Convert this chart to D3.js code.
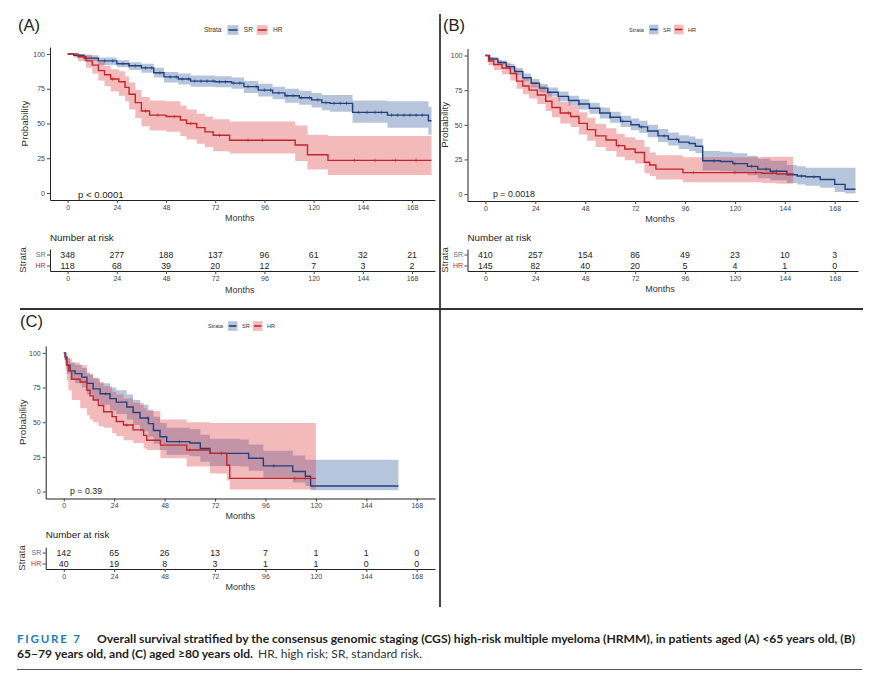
<!DOCTYPE html>
<html>
<head>
<meta charset="utf-8">
<script src="https://cdn.jsdelivr.net/npm/d3@7"></script>
<style>
body { margin: 0; background: #fff; }
svg text { font-family: "Liberation Sans", Arial, sans-serif; }
</style>
</head>
<body>
<svg id="fig" width="888" height="686"></svg>
<script>
// tick values shared by every panel
var monthTicks = [0, 24, 48, 72, 96, 120, 144, 168];
var probTicks = [0, 25, 50, 75, 100];
var strata = ["SR", "HR"];

// KM steps: [month, survival %, lower CI, upper CI]
var srA = [[0,100,100,100],[3,99,97.5,100],[8,97,95,99],[15,95,92,97.5],[24,93,90.5,95.5],[30,91.5,88.5,94],
  [36,90,86.5,93],[42,86.5,83,90],[47,83.5,79.5,87],[54,82,78,86],[60,80.5,76.5,84.5],[72,80,76,84],
  [80,79,75,83],[86,76.5,72,80.5],[93,74,69.5,78.5],[100,72,67.5,76.5],[106,70,65,75],[113,68.5,63.5,73.5],
  [119,67,61.5,72],[124,65,59.5,70.5],[128,64.5,58.5,70.5],[139,58,50.5,66.5],[156,56,47,66],[176,52,42,62],[177.5,52,42,62]];
var hrA = [[0,100,100,100],[5,98,95,100],[9,95,90,99.5],[12,92,86,97.5],[15,88,81,94],[18,85,77,91.5],
  [21,82,73,89],[25,80,70,87.5],[28,76,66,84],[30,71,60,79.5],[33,65,54,74],[36,59,48,69],[40,56,45,66.5],
  [48,55,44,66],[55,52.5,41,63],[58,50,38.5,60],[63,47,35.5,57],[67,44,33,55],[71,41.5,30,53],[79,38,28.5,51.5],
  [111,34.5,23,48.5],[117,27.5,17,42],[127,23.5,13,41],[177.5,23.5,13,41]];

var srB = [[0,100,100,100],[2,97.5,96.5,99],[6,95,93.5,96.5],[10,92,90,94],[14,88.5,86,91],[18,84,81.5,87],
  [22,80,77,83],[26,76.5,73.5,79.5],[30,73.5,70.5,77],[35,70.5,67,74],[40,67.5,64,71],[45,65,61,68.5],
  [50,62,58,66],[55,58.5,54.5,62.5],[60,55.5,51.5,59.5],[65,52.5,48.5,56.5],[70,50,46,54.5],[74,48.5,44,53],
  [78,45.5,41,50],[83,42,37.5,47],[88,39.5,35,44.5],[93,37.5,32.5,42.5],[98,36.5,31,41.5],[101,34.5,29.5,40],
  [104.5,24,17,31],[113,23.5,16.5,30.5],[119,22,15,29.5],[126,20,13.5,27.5],[131,18,11.5,25.5],[137,16.5,10,24],
  [145,14,8,21],[150,13,7,20],[154,12.5,6,19],[161,10.5,4.5,19],[168,7,1.5,19],[173,3.5,0.5,19],[178,3.5,0.5,19]];
var hrB = [[0,100,100,100],[1.5,96,93,99],[4,93.5,89.5,97],[8,91,86.5,95],[12,87,82,92],[15,81.5,76,87],
  [18,78,72,84],[21,75,69,81],[25,71.5,65,78],[29,67,60,74],[32,62.5,55.5,70],[36,58.5,51,66.5],
  [41,56,48.5,64],[45,51,43,59],[49,46.5,38.5,55],[53,42,34,50.5],[58,39,31,47.5],[63,35,27,43.5],
  [67,32.5,24.5,41],[72,30,22,39],[76.5,23,15,34],[79,21,13,30],[82,18,10.5,28],[95,15.5,8.5,26.5],
  [133,15,8,27],[140,14.5,7.5,27],[148,14,7,27]];

var srC = [[0,100,100,100],[0.6,97,92,100],[1.4,91,85,96.5],[3,87,80.5,93],[5.4,85,78,91.5],[8.6,82.5,75,89],
  [11,78,70,85],[14,74,66,81.5],[17.3,70.5,62.5,78],[22,67,58.5,75],[25,64.5,56,73],[30,61,52,70],
  [33,57,48,66],[36.3,53,43.5,62.5],[40.3,49,39.5,59],[42.7,44,34.5,54],[45.8,39.5,30,49.5],[49,36,26.5,46],
  [60,35,25.5,45],[65,31,21.5,41],[69.6,27.5,18.5,38],[84,27.5,18,37.5],[88,24,15,34],[95,18.5,10,29.5],
  [109,14.5,6.5,26],[115,11,4,23],[117.5,4,1,23],[159.3,4,1,23]];
var hrC = [[0,100,100,100],[0.8,95.5,88,100],[1.4,91,80,98],[2.2,87,73,96],[3.8,81,66,93],[7.8,79,60,91],
  [11,73,55,86],[12.5,69,52,84],[14,66,50,82],[16.5,62,47,79],[19,57.5,46,76],[23,54,42,72],[25,50.5,40,70],
  [28.4,48,37,67],[33,44.5,35,64],[38,40.5,31,60],[39.5,37,30,58],[46,33.5,24,52],[58.5,30,18,50],
  [69.6,27.5,13,49.5],[77.6,19,8,49.5],[79,9.5,1.5,49.5],[120,9.5,1.5,49.5]];

// censoring times (the + marks)
var censA_SR = [18,22,27,30,33,38,41,45,50,53,56,59,62,65,68,71,74,77,81,84,88,92,96,99,103,107,110,114,118,122,126,130,133,136,142,146,150,153,158,161,164,167,170,173];
var censA_HR = [22,38,44,52,60,74,88,95,140,150,160,170];
var censB_SR = [30,45,60,66,75,86,92,110,120,128,135,140,152,158];
var censB_HR = [40,64,100,120,130,138];
var censC_SR = [20,40,55,75,100];
var censC_HR = [30,60,110,115];

// number at risk at monthTicks
var riskA_SR = [348,277,188,137,96,61,32,21];
var riskA_HR = [118,68,39,20,12,7,3,2];
var riskB_SR = [410,257,154,86,49,23,10,3];
var riskB_HR = [145,82,40,20,5,4,1,0];
var riskC_SR = [142,65,26,13,7,1,1,0];
var riskC_HR = [40,19,8,3,1,1,0,0];

var pValues = ["p < 0.0001", "p = 0.0018", "p = 0.39"];

var lineColor = { SR: "#22427f", HR: "#c1272d" };
var fillColor = { SR: "#2f5a9c", HR: "#de3a3f" };

var svg = d3.select("#fig");

function styleAxis(sel, fs) {
    sel.attr("font-family", null).attr("font-size", null);
    sel.select(".domain").attr("stroke", "#222").attr("stroke-width", 1);
    sel.selectAll(".tick line").attr("stroke", "#444");
    sel.selectAll(".tick text").attr("fill", "#444").attr("font-size", fs);
}

function stepAt(data, t) {
    var v = data[0][1];
    data.forEach(function(d) { if (d[0] <= t) v = d[1]; });
    return v;
}

function drawPanel(p) {
    var g = svg.append("g");
    var x = d3.scaleLinear().domain([-8.6, p.xMax]).range([p.x0, p.x1]);
    var y = d3.scaleLinear().domain([-5, 105]).range([p.yBot, p.yTop]);

    g.append("text").attr("x", p.labX).attr("y", p.labY)
        .attr("font-size", 16.5).attr("fill", "#222").text(p.label);

    // legend
    var lg = g.append("g").attr("transform", "translate(" + p.legX + "," + p.legY + ")");
    var s = p.legS;
    lg.append("text").attr("x", 0).attr("y", 2).attr("font-size", 5.6 * s).attr("fill", "#333").text("Strata");
    [[20, 34, "SR"], [45, 59, "HR"]].forEach(function(k) {
        lg.append("rect").attr("x", k[0] * s).attr("y", -4.8).attr("width", 9.5 * s).attr("height", 9.6)
            .attr("fill", fillColor[k[2]]).attr("fill-opacity", 0.35);
        lg.append("line").attr("x1", k[0] * s + 1).attr("x2", k[0] * s + 9.5 * s - 1).attr("y1", 0).attr("y2", 0)
            .attr("stroke", lineColor[k[2]]).attr("stroke-width", 1.6);
        lg.append("text").attr("x", k[1] * s).attr("y", 2).attr("font-size", 5.6 * s).attr("fill", "#333").text(k[2]);
    });

    var band = d3.area().curve(d3.curveStepAfter)
        .x(function(d) { return x(d[0]); })
        .y0(function(d) { return y(d[2]); })
        .y1(function(d) { return y(d[3]); });
    var line = d3.line().curve(d3.curveStepAfter)
        .x(function(d) { return x(d[0]); })
        .y(function(d) { return y(d[1]); });

    var curves = [["SR", p.sr, p.cSR], ["HR", p.hr, p.cHR]];
    curves.forEach(function(c) {
        g.append("path").datum(c[1]).attr("d", band)
            .attr("fill", fillColor[c[0]]).attr("fill-opacity", 0.35);
    });
    curves.forEach(function(c) {
        g.append("path").datum(c[1]).attr("d", line)
            .attr("fill", "none").attr("stroke", lineColor[c[0]]).attr("stroke-width", 1.4);
        g.selectAll(null).data(c[2]).enter().append("path")
            .attr("d", function(t) {
                var cx = x(t), cy = y(stepAt(c[1], t));
                return "M" + cx + "," + (cy - 1.8) + "V" + (cy + 1.8) + "M" + (cx - 1.2) + "," + cy + "H" + (cx + 1.2);
            })
            .attr("stroke", lineColor[c[0]]).attr("stroke-width", 0.6);
    });

    // axes
    g.append("g").attr("transform", "translate(0," + p.yBot + ")")
        .call(d3.axisBottom(x).tickValues(monthTicks).tickSize(3).tickSizeOuter(0).tickPadding(2))
        .call(styleAxis, 7);
    g.append("g").attr("transform", "translate(" + p.x0 + ",0)")
        .call(d3.axisLeft(y).tickValues(probTicks).tickSize(3).tickSizeOuter(0).tickPadding(2))
        .call(styleAxis, 7);

    g.append("text").attr("transform", "translate(" + p.probX + "," + ((p.yTop + p.yBot) / 2) + ") rotate(-90)")
        .attr("text-anchor", "middle").attr("font-size", 9.8).attr("fill", "#333").text("Probability");
    g.append("text").attr("x", (x(0) + x(168)) / 2).attr("y", p.monthsY)
        .attr("text-anchor", "middle").attr("font-size", 9).attr("fill", "#333").text("Months");
    g.append("text").attr("x", p.pX).attr("y", p.pY)
        .attr("font-size", p.pFs).attr("fill", "#222").text(p.pText);

    // number at risk table
    g.append("text").attr("x", p.x0).attr("y", p.nrY).attr("font-size", 9.8).attr("fill", "#222").text("Number at risk");
    var ry = d3.scalePoint().domain(["HR", "SR"]).range([p.rAxis, p.rAxis - 22]).padding(0.5);
    var rows = [["SR", p.riskSR], ["HR", p.riskHR]];
    rows.forEach(function(r) {
        g.selectAll(null).data(r[1]).enter().append("text")
            .attr("x", function(v, i) { return x(monthTicks[i]); })
            .attr("y", ry(r[0]) + 3)
            .attr("text-anchor", "middle").attr("font-size", 8.8).attr("fill", "#222")
            .text(function(v) { return v; });
    });
    g.append("g").attr("transform", "translate(0," + p.rAxis + ")")
        .call(d3.axisBottom(x).tickValues(monthTicks).tickSize(3).tickSizeOuter(0).tickPadding(2))
        .call(styleAxis, 7);
    var yAx = g.append("g").attr("transform", "translate(" + p.x0 + ",0)")
        .call(d3.axisLeft(ry).tickSize(3).tickSizeOuter(0).tickPadding(1.5))
        .call(styleAxis, 7);
    yAx.selectAll(".tick text").attr("fill", function(d) { return d === "SR" ? "#4a6fa8" : "#c1272d"; });
    g.append("text").attr("transform", "translate(" + p.strataX + "," + (p.rAxis - 11) + ") rotate(-90)")
        .attr("text-anchor", "middle").attr("font-size", 9.5).attr("fill", "#333").text("Strata");
    g.append("text").attr("x", (x(0) + x(168)) / 2).attr("y", p.rMonthsY)
        .attr("text-anchor", "middle").attr("font-size", 9).attr("fill", "#333").text("Months");
}

drawPanel({ label: "(A)", labX: 18, labY: 31, legX: 204, legY: 30, legS: 1.17,
    x0: 50, x1: 435, xMax: 179.2, yTop: 47, yBot: 200, probX: 28, monthsY: 221,
    pText: pValues[0], pX: 78, pY: 197.5, pFs: 9.6,
    nrY: 241, rAxis: 271, rMonthsY: 293, strataX: 26,
    sr: srA, hr: hrA, cSR: censA_SR, cHR: censA_HR, riskSR: riskA_SR, riskHR: riskA_HR });

drawPanel({ label: "(B)", labX: 443, labY: 31, legX: 629, legY: 29.5, legS: 1,
    x0: 467.5, x1: 858, xMax: 179.2, yTop: 48.6, yBot: 201, probX: 448, monthsY: 222,
    pText: pValues[1], pX: 493, pY: 197, pFs: 8.8,
    nrY: 241, rAxis: 271, rMonthsY: 292, strataX: 448,
    sr: srB, hr: hrB, cSR: censB_SR, cHR: censB_HR, riskSR: riskB_SR, riskHR: riskB_HR });

drawPanel({ label: "(C)", labX: 20, labY: 327, legX: 208, legY: 326, legS: 1,
    x0: 45.7, x1: 435, xMax: 176.7, yTop: 345.9, yBot: 498.5, probX: 26, monthsY: 519,
    pText: pValues[2], pX: 70, pY: 494, pFs: 8.8,
    nrY: 538, rAxis: 569, rMonthsY: 590, strataX: 25,
    sr: srC, hr: hrC, cSR: censC_SR, cHR: censC_HR, riskSR: riskC_SR, riskHR: riskC_HR });

// panel dividers
svg.append("line").attr("x1", 440).attr("x2", 440).attr("y1", 14).attr("y2", 607)
    .attr("stroke", "#333").attr("stroke-width", 1.8);
svg.append("line").attr("x1", 20).attr("x2", 863).attr("y1", 309).attr("y2", 309)
    .attr("stroke", "#333").attr("stroke-width", 1.8);

// caption
var cap1 = svg.append("text").attr("y", 643).attr("font-size", 11.5).style("font-family", "Lato");
cap1.append("tspan").attr("x", 17).attr("fill", "#1d7cbc").attr("font-weight", "bold")
    .attr("textLength", 63).attr("lengthAdjust", "spacing").text("FIGURE 7");
cap1.append("tspan").attr("x", 97).attr("fill", "#222").attr("font-weight", "bold")
    .attr("textLength", 758).attr("lengthAdjust", "spacingAndGlyphs")
    .text("Overall survival stratified by the consensus genomic staging (CGS) high-risk multiple myeloma (HRMM), in patients aged (A) <65 years old, (B)");
var cap2 = svg.append("text").attr("y", 657.5).attr("font-size", 11.5).style("font-family", "Lato");
cap2.append("tspan").attr("x", 17).attr("fill", "#222").attr("font-weight", "bold")
    .attr("textLength", 236).attr("lengthAdjust", "spacingAndGlyphs").text("65–79 years old, and (C) aged ≥80 years old.");
cap2.append("tspan").attr("x", 258).attr("fill", "#333")
    .attr("textLength", 164).attr("lengthAdjust", "spacingAndGlyphs").text("HR, high risk; SR, standard risk.");
svg.append("line").attr("x1", 17).attr("x2", 862).attr("y1", 669.5).attr("y2", 669.5)
    .attr("stroke", "#555").attr("stroke-width", 1);
</script>
</body>
</html>
